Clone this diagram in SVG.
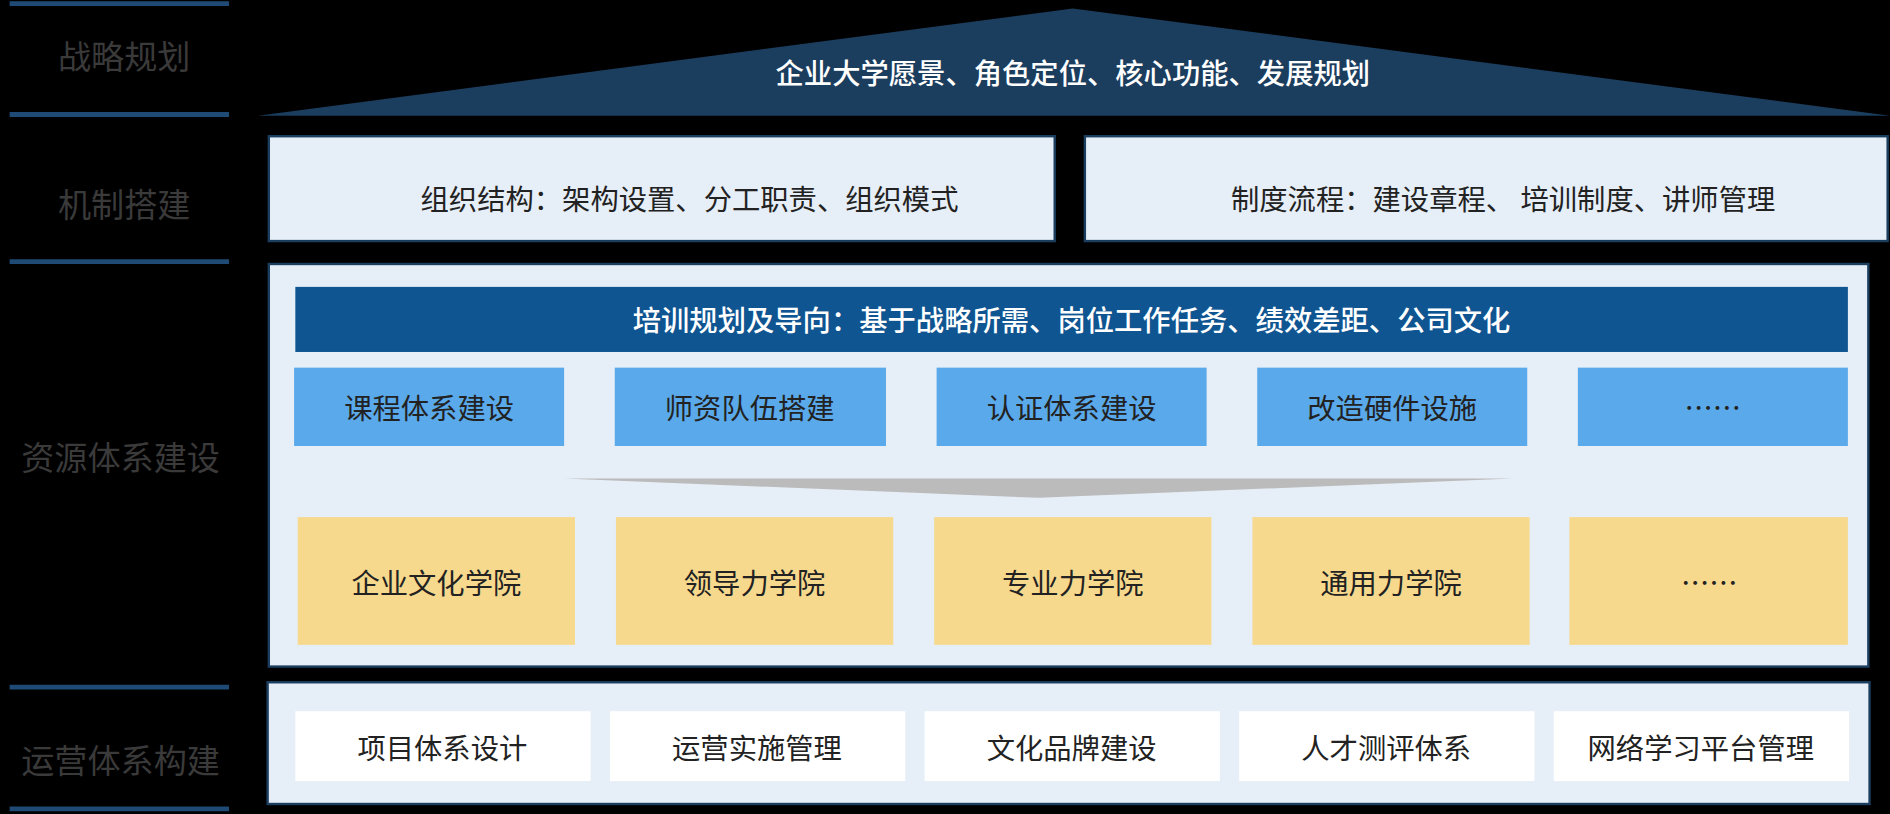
<svg xmlns="http://www.w3.org/2000/svg" width="1890" height="814" viewBox="0 0 1890 814">
<style>
text{font-family:"Noto Sans CJK SC","Noto Sans",sans-serif;text-anchor:middle;dominant-baseline:central}
.side{fill:#3a3a3a;font-size:27.5px}
.w{fill:#fff;font-size:23.5px;font-weight:500}
.d{fill:#222;font-size:23.5px}
.panel{fill:#e6eef7;stroke:#1b3d5e;stroke-width:2}
.blue{fill:#5aa9ea}
.yel{fill:#f7d98e}
.wh{fill:#fff}
.ln{stroke:#1f4a75;stroke-width:4}
</style>
<rect width="1890" height="814" fill="#000"/>
<g transform="scale(1.2054)">
<g id="side">
<line class="ln" x1="8" y1="3" x2="190" y2="3"/>
<line class="ln" x1="8" y1="95" x2="190" y2="95"/>
<line class="ln" x1="8" y1="217" x2="190" y2="217"/>
<line class="ln" x1="8" y1="570" x2="190" y2="570"/>
<line class="ln" x1="8" y1="671" x2="190" y2="671"/>
<text class="side" x="103" y="46">战略规划</text>
<text class="side" x="103" y="168">机制搭建</text>
<text class="side" x="100" y="378">资源体系建设</text>
<text class="side" x="100" y="630">运营体系构建</text>
</g>
<g id="roof"><polygon points="214,96 890,7 1568,96" fill="#1b3d5e"/><text class="w" x="890" y="59">企业大学愿景、角色定位、核心功能、发展规划</text></g>
<g id="org"><rect class="panel" x="223" y="113" width="652" height="87"/><text class="d" x="572" y="164">组织结构：架构设置、分工职责、组织模式</text></g>
<g id="sys"><rect class="panel" x="900" y="113" width="666" height="87"/><text class="d" x="1247" y="164">制度流程：建设章程、 培训制度、讲师管理</text></g>
<g id="res">
<rect class="panel" x="223" y="219" width="1327" height="334"/>
<rect x="245" y="238" width="1288" height="54" fill="#0f5591"/>
<text class="w" x="889" y="264">培训规划及导向：基于战略所需、岗位工作任务、绩效差距、公司文化</text>
<rect class="blue" x="244" y="305" width="224" height="65"/><text class="d" x="356" y="337">课程体系建设</text>
<rect class="blue" x="510" y="305" width="225" height="65"/><text class="d" x="622" y="337">师资队伍搭建</text>
<rect class="blue" x="777" y="305" width="224" height="65"/><text class="d" x="889" y="337">认证体系建设</text>
<rect class="blue" x="1043" y="305" width="224" height="65"/><text class="d" x="1155" y="337">改造硬件设施</text>
<rect class="blue" x="1309" y="305" width="224" height="65"/><text class="d" x="1421" y="337">……</text>
<polygon points="468,397 1255,397 862,413" fill="#bbb"/>
<rect class="yel" x="247" y="429" width="230" height="106"/><text class="d" x="362" y="482">企业文化学院</text>
<rect class="yel" x="511" y="429" width="230" height="106"/><text class="d" x="626" y="482">领导力学院</text>
<rect class="yel" x="775" y="429" width="230" height="106"/><text class="d" x="890" y="482">专业力学院</text>
<rect class="yel" x="1039" y="429" width="230" height="106"/><text class="d" x="1154" y="482">通用力学院</text>
<rect class="yel" x="1302" y="429" width="231" height="106"/><text class="d" x="1418" y="482">……</text>
</g>
<g id="ops">
<rect class="panel" x="222" y="566" width="1329" height="101"/>
<rect class="wh" x="245" y="590" width="245" height="58"/><text class="d" x="367" y="619">项目体系设计</text>
<rect class="wh" x="506" y="590" width="245" height="58"/><text class="d" x="628" y="619">运营实施管理</text>
<rect class="wh" x="767" y="590" width="245" height="58"/><text class="d" x="889" y="619">文化品牌建设</text>
<rect class="wh" x="1028" y="590" width="245" height="58"/><text class="d" x="1150" y="619">人才测评体系</text>
<rect class="wh" x="1289" y="590" width="245" height="58"/><text class="d" x="1411" y="619">网络学习平台管理</text>
</g>
<g id="connectors"/>
</g>
</svg>
